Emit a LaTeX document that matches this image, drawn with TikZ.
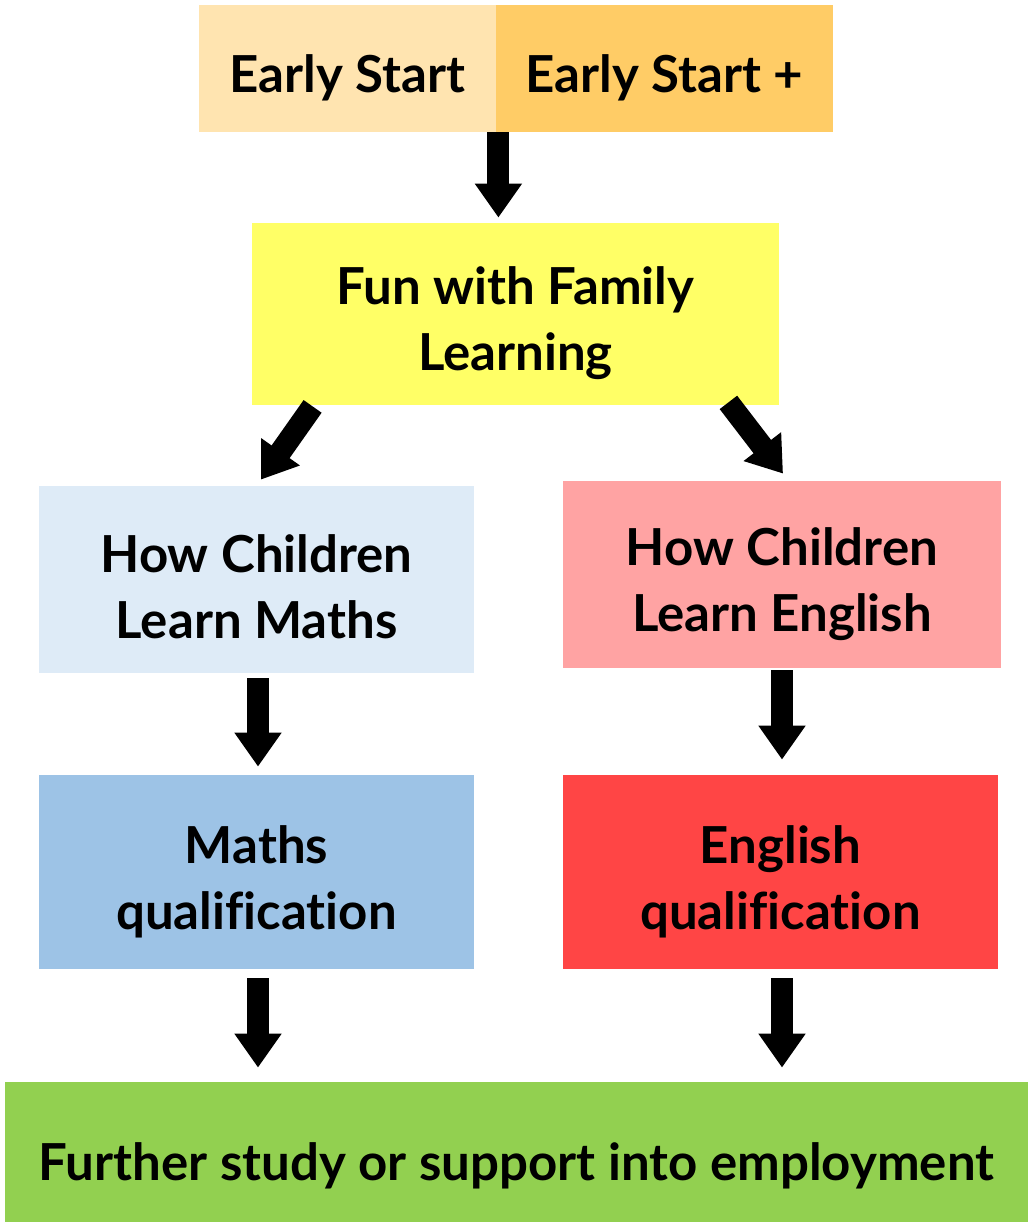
\documentclass[tikz,border=0pt]{standalone}
\usepackage{fontspec}
\setmainfont{Lato}[Ligatures=NoCommon]
\usetikzlibrary{arrows.meta,calc}
\definecolor{esA}{HTML}{FFE4B0}
\definecolor{esB}{HTML}{FFCC66}
\definecolor{funY}{HTML}{FFFF66}
\definecolor{mathsA}{HTML}{DEEBF7}
\definecolor{mathsB}{HTML}{9DC3E6}
\definecolor{engA}{HTML}{FFA3A3}
\definecolor{engB}{HTML}{FF4545}
\definecolor{furtherG}{HTML}{92D050}
\newcommand{\txtdown}[1][28.5pt]{\rule{0pt}{#1}}
\tikzstyle{box}=[rectangle,inner sep=0pt,align=center,text=black,font=\bfseries\fontsize{25.5}{33}\selectfont]
\tikzstyle{flow}=[-{Triangle[width=22.5pt,length=17pt]},line width=11pt,black]
\begin{document}
\begin{tikzpicture}[x=0.5pt,y=-0.5pt]
  \useasboundingbox (0,0) rectangle (1033,1224);

  \node[box,fill=esA,minimum width=148.5pt,minimum height=63.5pt] (ES) at (347.5,68.5) {\txtdown Early Start};
  \node[box,fill=esB,minimum width=168.5pt,minimum height=63.5pt] (ESP) at (664.5,68.5) {\txtdown Early Start +};
  \node[box,fill=funY,minimum width=263.5pt,minimum height=91pt] (F) at (515.5,314) {\txtdown Fun with Family\\Learning};
  \node[box,fill=mathsA,minimum width=217.5pt,minimum height=93.5pt] (HM) at (256.5,579.5) {\txtdown[26.5pt]How Children\\Learn Maths};
  \node[box,fill=engA,minimum width=219pt,minimum height=93.5pt] (HE) at (782,574.5) {\txtdown How Children\\Learn English};
  \node[box,fill=mathsB,minimum width=217.5pt,minimum height=97pt] (MQ) at (256.5,872) {\txtdown Maths\\qualification};
  \node[box,fill=engB,minimum width=217.5pt,minimum height=97pt] (EQ) at (780.5,872) {\txtdown English\\qualification};
  \node[box,fill=furtherG,minimum width=511.5pt,minimum height=70pt] (FS) at (516.5,1152) {\txtdown[33pt]Further study or support into employment};

  \draw[flow,shorten >=2.5pt] ($(ES.south east)+(2,0)$)--($(ES.south east |- F.north)+(2,0)$);
  \draw[flow] ($(F.south west)+(61,1)$)--($(HM.north)+(4.5,-6)$);
  \draw[flow] ($(F.south east)+(-51,-3)$)--($(HE.north)+(1,-7)$);
  %
  \draw[flow,shorten <=2.5pt,shorten >=4pt] ($(HM.south)+(1.5,0)$)--($(MQ.north)+(1.5,0)$);
  \draw[flow,shorten <=1pt,shorten >=7.5pt] (HE.south)--(HE.south |- EQ.north);
  \draw[flow,shorten <=4.5pt,shorten >=7pt] ($(MQ.south)+(1.5,0)$)--($(MQ.south |- FS.north)+(1.5,0)$);
  \draw[flow,shorten <=4.5pt,shorten >=7pt] ($(EQ.south)+(1.5,0)$)--($(EQ.south |- FS.north)+(1.5,0)$);

\end{tikzpicture}
\end{document}
